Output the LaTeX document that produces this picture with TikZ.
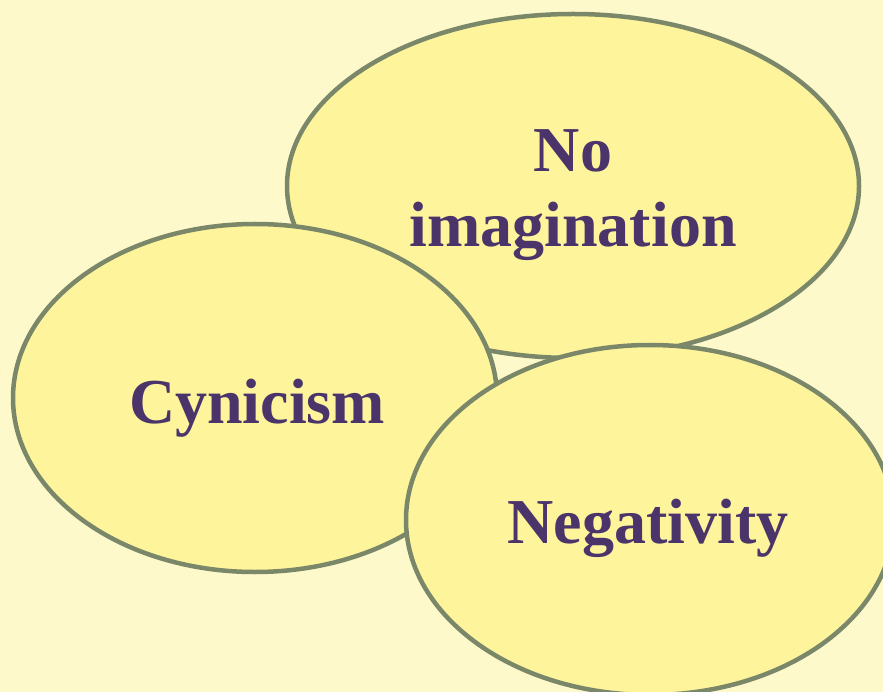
\documentclass[tikz,border=0pt]{standalone}
\usepackage{fontspec}
\setmainfont{Liberation Serif}
\definecolor{bgc}{HTML}{FEF9CB}
\definecolor{fillc}{HTML}{FDF49C}
\definecolor{linec}{HTML}{7B8769}
\definecolor{txtc}{HTML}{4B3469}
\tikzset{
  blob/.style={draw=linec, fill=fillc, line width=4.5pt},
  lbl/.style={anchor=base, text=txtc, font=\fontsize{64}{72}\selectfont\bfseries, inner sep=0pt}
}
\begin{document}
\begin{tikzpicture}[x=1pt,y=-1pt]
\useasboundingbox (0,0) rectangle (883,692);
\fill[bgc] (0,0) rectangle (883,692);
\clip (0,0) rectangle (883,692);
\path[blob] (573,186) ellipse [x radius=286, y radius=172];
\path[blob] (255,398) ellipse [x radius=242, y radius=174];
\path[blob] (650,520) ellipse [x radius=244, y radius=175];
\node[lbl] (no) at (573,172) {No};
\node[lbl] (imag) at (573,247) {imagination};
\node[lbl] (cyn) at (257,423) {Cynicism};
\node[lbl] (neg) at (648,543) {Negativity};
\end{tikzpicture}
\end{document}
